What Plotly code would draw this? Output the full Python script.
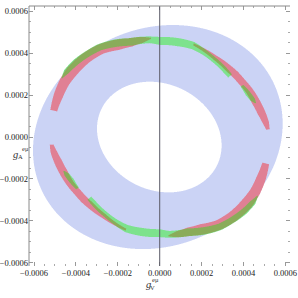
import numpy as np
import plotly.graph_objects as go

SCALE = 1e-4  # all radii / semi-axes below are in units of 1e-4

# ---- ticks ----
tick_vals = [-0.0006, -0.0004, -0.0002, 0.0, 0.0002, 0.0004, 0.0006]
tick_text = ["\u22120.0006", "\u22120.0004", "\u22120.0002", "0.0000", "0.0002", "0.0004", "0.0006"]

# ---- axis ranges ----
x_range = [-6.24e-4, 6.22e-4]
y_range = [-6.16e-4, 6.26e-4]

# ---- blue allowed ring: [semi-major, semi-minor, tilt(deg), centre x, centre y] ----
ring_outer = [6.10, 5.19, 24.0, -0.09, 0.0]
ring_inner = [3.07, 2.53, -26.0, -0.02, 0.0]

# ---- red region (point-symmetric), polar: angle(deg), inner r, outer r ----
red1_theta = [95, 100, 107, 115, 124, 133, 143, 150, 158, 166]
red1_rin   = [4.71, 4.57, 4.52, 4.59, 4.81, 4.90, 4.95, 5.00, 5.00, 5.05]
red1_rout  = [4.76, 4.86, 4.94, 5.12, 5.31, 5.43, 5.52, 5.50, 5.45, 5.38]

red2_theta = [4, 8, 13, 20, 27, 34, 40, 45, 55, 62, 70]
red2_rin   = [5.09, 4.95, 4.81, 4.69, 4.64, 4.55, 4.50, 4.47, 4.50, 4.57, 4.66]
red2_rout  = [5.26, 5.26, 5.19, 5.09, 5.00, 4.90, 4.86, 4.81, 4.74, 4.74, 4.76]

# ---- green region (point-symmetric) ----
green1_theta = [41, 45, 55, 62, 70, 79, 90, 96, 107, 115, 124, 130, 138, 145, 149]
green1_rin   = [4.33, 4.33, 4.38, 4.43, 4.47, 4.42, 4.40, 4.51, 4.56, 4.76, 5.00, 5.09, 5.21, 5.31, 5.43]
green1_rout  = [4.57, 4.59, 4.64, 4.71, 4.83, 4.81, 4.78, 4.83, 4.94, 5.14, 5.33, 5.40, 5.52, 5.57, 5.47]

green2_theta = [19.5, 22, 26, 32]
green2_rin   = [4.83, 4.66, 4.57, 4.55]
green2_rout  = [4.88, 4.90, 4.83, 4.71]

# ---- colours ----
col_white = [255, 255, 255]
col_blue = [203, 211, 245]
col_red = [224, 128, 148]
col_green = [125, 226, 141]
col_olive = [138, 172, 90]


def in_ellipse(X, Y, p):
    a, b, tilt, cx, cy = p
    t = np.radians(tilt)
    u = (X - cx) * np.cos(t) + (Y - cy) * np.sin(t)
    v = -(X - cx) * np.sin(t) + (Y - cy) * np.cos(t)
    return (u / a) ** 2 + (v / b) ** 2 <= 1.0


def in_band(TH, R, th, rin, rout):
    th = np.asarray(th, float)
    lo = np.interp(TH, th, rin)
    hi = np.interp(TH, th, rout)
    return (TH >= th.min()) & (TH <= th.max()) & (R >= lo) & (R <= hi)


# ---- raster of the plot area (one cell per screen pixel, 3x3 supersampled) ----
NX, NY, SS = 261, 260, 3
dx = (x_range[1] - x_range[0]) / NX
dy = (y_range[1] - y_range[0]) / NY
sx = x_range[0] + (np.arange(NX * SS) + 0.5) * dx / SS
sy = y_range[0] + (np.arange(NY * SS) + 0.5) * dy / SS
X, Y = np.meshgrid(sx / SCALE, sy / SCALE)
R = np.hypot(X, Y)
TH = np.degrees(np.arctan2(Y, X)) % 180.0

blue = in_ellipse(X, Y, ring_outer) & ~in_ellipse(X, Y, ring_inner)
red = in_band(TH, R, red1_theta, red1_rin, red1_rout) | in_band(TH, R, red2_theta, red2_rin, red2_rout)
green = in_band(TH, R, green1_theta, green1_rin, green1_rout) | in_band(TH, R, green2_theta, green2_rin, green2_rout)

cat = np.zeros(X.shape, int)
cat[blue] = 1
cat[red] = 2
cat[green] = 3
cat[red & green] = 4
palette = np.array([col_white, col_blue, col_red, col_green, col_olive], float)
rgb = palette[cat]
rgb = rgb.reshape(NY, SS, NX, SS, 3).mean(axis=(1, 3))
rgb = np.round(rgb).astype(np.uint8)

fig = go.Figure()
fig.add_trace(go.Image(z=rgb, colormodel="rgb", x0=x_range[0] + dx / 2, dx=dx,
                       y0=y_range[0] + dy / 2, dy=dy, hoverinfo="skip"))

frame_col = "#8a8a8a"
fig.add_shape(type="line", xref="x", yref="paper", x0=0, x1=0, y0=0, y1=1,
              line=dict(color="#5a5a66", width=1), layer="above")
fig.add_shape(type="line", xref="paper", yref="paper", x0=0, x1=1, y0=1, y1=1,
              line=dict(color=frame_col, width=1), layer="above")
fig.add_shape(type="line", xref="paper", yref="paper", x0=0, x1=0, y0=0, y1=1,
              line=dict(color=frame_col, width=1), layer="above")

tickfont = dict(family="Liberation Serif", size=8.5, color="#222")
axis_common = dict(tickvals=tick_vals, ticktext=tick_text, ticks="inside", ticklen=4,
                   tickcolor="#999", tickwidth=1, mirror="ticks", showline=False,
                   showgrid=False, zeroline=False, tickfont=tickfont, automargin=False,
                   constrain="range",
                   minor=dict(dtick=0.00005, tick0=0, ticks="inside", ticklen=2,
                              tickcolor="#aaa", showgrid=False))
fig.update_xaxes(range=x_range, autorange=False, **axis_common)
fig.update_yaxes(range=y_range, scaleanchor=False, autorange=False, **axis_common)

lab_font = dict(family="Liberation Serif", size=10.5, color="#333")
small_font = dict(family="Liberation Serif", size=6.5, color="#333")
annots = [
    ("<i>g</i>", 0.456, -0.072, lab_font),
    ("V", 0.474, -0.081, small_font),
    ("eμ", 0.484, -0.052, small_font),
    ("<i>g</i>", -0.053, 0.428, lab_font),
    ("A", -0.034, 0.420, small_font),
    ("eμ", -0.012, 0.452, small_font),
]
for txt, ax_, ay_, f in annots:
    fig.add_annotation(text=txt, x=ax_, y=ay_, xref="paper", yref="paper",
                       showarrow=False, font=f, xanchor="center", yanchor="middle")

fig.update_layout(width=298, height=298,
                  margin=dict(l=29, r=8, t=6, b=32, autoexpand=False),
                  paper_bgcolor="white", plot_bgcolor="white", showlegend=False)

fig.write_html("out.html", config={"displayModeBar": False},
               post_script="document.body.style.margin='0px';")
